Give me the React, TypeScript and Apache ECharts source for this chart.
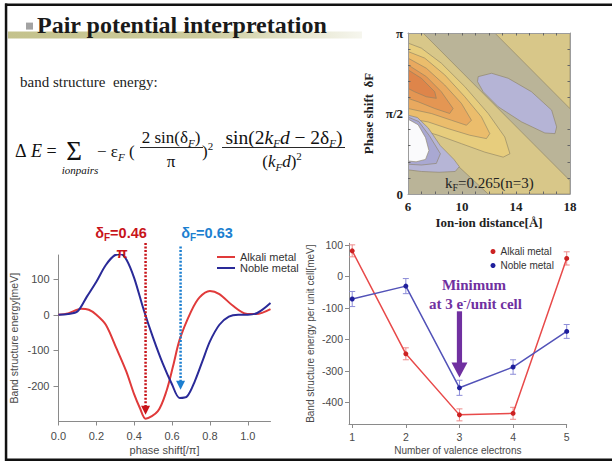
import React, { useEffect, useRef } from "react";
import * as echarts from "echarts";

// ---------- Left chart: band structure energy vs phase shift ----------
const alkaliPhase = [0, 0.05, 0.12, 0.16, 0.2, 0.25, 0.305, 0.358, 0.4, 0.43, 0.46, 0.525, 0.57, 0.605, 0.64, 0.7, 0.745, 0.8, 0.85, 0.92, 0.99, 1.045, 1.12];
const alkaliEnergy = [0, 4, 17, 14, 0, -28, -93, -159, -224, -262, -292, -271, -215, -145, -70, 9, 49, 67, 58, 26, 3, 2, 16];
const noblePhase = [0, 0.05, 0.1, 0.15, 0.2, 0.25, 0.3, 0.33, 0.36, 0.4, 0.45, 0.5, 0.55, 0.6, 0.64, 0.68, 0.72, 0.76, 0.8, 0.85, 0.9, 0.95, 1.0, 1.05, 1.12];
const nobleEnergy = [0, 2, 9, 51, 93, 140, 168, 170, 154, 103, 14, -65, -136, -196, -234, -229, -187, -131, -75, -28, -5, 0, 0, 5, 33];
const phaseTicks = [0, 0.2, 0.4, 0.6, 0.8, 1.0];
const energyTicks = [-200, -100, 0, 100];
// dotted arrows: [phase, top energy, tip energy]
const optimumArrows = [
  [0.46, 202, -281],
  [0.645, 192, -211],
];

// ---------- Right chart: energy per unit cell vs valence ----------
const valence = [1, 2, 3, 4, 5];
const alkaliBand = [81, -246, -440, -435, 57];
const alkaliErr = [19, 19, 19, 19, 21];
const nobleBand = [-72, -31, -354, -288, -175];
const nobleErr = [24, 24, 24, 23, 22];
const cellTicks = [-400, -300, -200, -100, 0, 100];
const minimumArrow = [3, -111, -321];

// ---------- Contour plot: regions [distance Å, phase/π] ----------
const distanceLabels = [6, 10, 14, 18];
const distanceTicks = [7, 8, 9, 10, 11, 12, 13, 14, 15, 16, 17];
const phaseLabels = [0, 0.5, 1];
const phaseMinor = [0.1, 0.2, 0.3, 0.4, 0.6, 0.7, 0.8, 0.9];
const regionTopRight = [[12.43, 1], [18, 1], [18, 0.53]];
const regionBandNeg = [[6, 1], [7.11, 1], [18, 0.083], [18, 0], [11.94, 0], [6, 0.4625]];
const regionEllipse = [[11.2, 0.729], [12.19, 0.75], [13.42, 0.719], [15.15, 0.635], [16.64, 0.521], [17.01, 0.417], [16.89, 0.375], [16.14, 0.379], [14.41, 0.448], [12.68, 0.542], [11.57, 0.635], [11.15, 0.698]];
const regionNeg2 = [[6, 0.9375], [6.99, 0.906], [8.47, 0.8125], [10.21, 0.667], [11.94, 0.5], [13.17, 0.354], [13.55, 0.25], [13.05, 0.229], [11.69, 0.26], [9.96, 0.3125], [8.23, 0.365], [6.99, 0.396], [6, 0.417]];
const regionNeg4 = [[6, 0.885], [7.24, 0.844], [8.72, 0.74], [10.21, 0.604], [11.44, 0.479], [12.06, 0.375], [11.81, 0.344], [10.58, 0.365], [8.97, 0.406], [7.48, 0.448], [6, 0.469]];
const regionNeg6 = [[6, 0.844], [7.36, 0.781], [8.72, 0.677], [9.96, 0.5625], [10.7, 0.458], [10.33, 0.427], [9.22, 0.458], [7.73, 0.5], [6, 0.531]];
const regionNeg8 = [[6, 0.802], [7.36, 0.729], [8.47, 0.635], [9.34, 0.531], [9.09, 0.5], [7.98, 0.531], [6.74, 0.573], [6, 0.594]];
const regionNeg10 = [[6, 0.771], [6.99, 0.719], [7.98, 0.635], [8.1, 0.594], [7.36, 0.604], [6.49, 0.635], [6, 0.656]];
const regionPos2 = [[6, 0.49], [6.7, 0.475], [7.5, 0.41], [8.4, 0.3], [9.4, 0.215], [9.8, 0.17], [9.5, 0.14], [8.3, 0.135], [6.99, 0.14], [6, 0.15]];
const regionPos4 = [[6, 0.478], [6.8, 0.45], [7.6, 0.36], [8.4, 0.25], [8.1, 0.19], [6.99, 0.18], [6, 0.185]];
const regionPos6 = [[6, 0.465], [6.75, 0.43], [7.3, 0.35], [7.55, 0.27], [7.3, 0.215], [6.6, 0.2], [6, 0.205]];

const contourLayers = [
  { pts: regionTopRight, fill: "#d8c789" },
  { pts: regionBandNeg, fill: "#d8c789" },
  { pts: regionEllipse, fill: "#b5b4d6" },
  { pts: regionNeg2, fill: "#e7cd7d" },
  { pts: regionNeg4, fill: "#ebbd6c" },
  { pts: regionNeg6, fill: "#e9a95f" },
  { pts: regionNeg8, fill: "#e49653" },
  { pts: regionNeg10, fill: "#de854a" },
  { pts: regionPos2, fill: "#b6b5d6" },
  { pts: regionPos4, fill: "#a9a8d2" },
  { pts: regionPos6, fill: "#fafafc" },
];

const SERIF = "Liberation Serif";
const SANS = "Liberation Sans";

const serifRich = (size: number, color = "#111") => ({
  n: { fontFamily: SERIF, fontSize: size, lineHeight: 22, fill: color },
  i: { fontFamily: SERIF, fontSize: size, fontStyle: "italic", lineHeight: 22, fill: color },
  s: { fontFamily: SERIF, fontSize: 11, fontStyle: "italic", lineHeight: 11, verticalAlign: "bottom", fill: color },
  p: { fontFamily: SERIF, fontSize: 11, lineHeight: 11, verticalAlign: "top", fill: color },
});

function text(t: string, x: number, y: number, extra: any = {}) {
  return {
    type: "text",
    x,
    y,
    z: 50,
    style: {
      text: t,
      fill: "#111",
      fontFamily: SERIF,
      fontSize: 17,
      align: "left",
      verticalAlign: "middle",
      ...extra,
    },
  };
}

export default function App() {
  const ref = useRef<HTMLDivElement>(null);
  useEffect(() => {
    if (!ref.current) return;
    const chart = echarts.init(ref.current, undefined, { renderer: "svg" });

    const axisGray = "#8a8a8a";
    const labelGray = "#4a4a4a";
    const red = "#c8141a";
    const sky = "#1c7fd0";
    const purple = "#7030a0";

    const option: any = {
      animation: false,
      backgroundColor: "#ffffff",
      textStyle: { fontFamily: SANS },
      grid: [
        { left: 408, top: 33, width: 162, height: 161, show: true, backgroundColor: "#bab498", borderWidth: 0 },
        { left: 58.5, top: 255, width: 212, height: 166.5 },
        { left: 349, top: 243.3, width: 217.7, height: 180.7 },
      ],
      xAxis: [
        {
          gridIndex: 0, type: "value", min: 6, max: 18, position: "bottom", z: 10,
          axisLine: { show: true, onZero: false, lineStyle: { color: "#9c9c9c", width: 1 } },
          axisTick: { show: true, inside: true, length: 2.5, customValues: distanceTicks, lineStyle: { color: "#666" } },
          axisLabel: { customValues: distanceLabels, fontFamily: SERIF, fontWeight: "bold", fontSize: 13, color: "#222", margin: 6 },
          splitLine: { show: false },
          name: "Ion-ion distance[Å]", nameLocation: "middle", nameGap: 22,
          nameTextStyle: { fontFamily: SERIF, fontWeight: "bold", fontSize: 13, color: "#222" },
        },
        {
          gridIndex: 0, type: "value", min: 6, max: 18, position: "top", z: 10,
          axisLine: { show: true, onZero: false, lineStyle: { color: "#9c9c9c", width: 1 } },
          axisTick: { show: true, inside: true, length: 2.5, customValues: distanceTicks, lineStyle: { color: "#666" } },
          axisLabel: { show: false }, splitLine: { show: false },
        },
        {
          gridIndex: 1, type: "value", min: 0, max: 1.12,
          axisLine: { show: true, onZero: false, lineStyle: { color: axisGray } },
          axisTick: { show: true, length: 4, customValues: phaseTicks, lineStyle: { color: axisGray } },
          axisLabel: { customValues: phaseTicks, formatter: (v: number) => v.toFixed(1), fontSize: 11, color: labelGray, margin: 9 },
          splitLine: { show: false },
          name: "phase shift[/π]", nameLocation: "middle", nameGap: 23,
          nameTextStyle: { fontSize: 11, color: labelGray },
        },
        {
          gridIndex: 2, type: "value", min: 0.94, max: 5,
          axisLine: { show: true, onZero: false, lineStyle: { color: axisGray } },
          axisTick: { show: true, length: 4, customValues: valence, lineStyle: { color: axisGray } },
          axisLabel: { customValues: valence, fontSize: 10.5, color: labelGray, margin: 7 },
          splitLine: { show: false },
          name: "Number of valence electrons", nameLocation: "middle", nameGap: 21,
          nameTextStyle: { fontSize: 10, color: labelGray },
        },
      ],
      yAxis: [
        {
          gridIndex: 0, type: "value", min: 0, max: 1, position: "left", z: 10,
          axisLine: { show: true, onZero: false, lineStyle: { color: "#9c9c9c", width: 1 } },
          axisTick: { show: true, inside: true, length: 2.5, customValues: phaseMinor, lineStyle: { color: "#666" } },
          axisLabel: {
            customValues: phaseLabels,
            formatter: (v: number) => (v === 0 ? "0" : v === 0.5 ? "π/2" : "π"),
            fontFamily: SERIF, fontWeight: "bold", fontSize: 13, color: "#222", margin: 5,
          },
          splitLine: { show: false },
          name: "Phase shift  δF", nameLocation: "middle", nameRotate: 90, nameGap: 33,
          nameTextStyle: { fontFamily: SERIF, fontWeight: "bold", fontSize: 13, color: "#222" },
        },
        {
          gridIndex: 0, type: "value", min: 0, max: 1, position: "right", z: 10,
          axisLine: { show: true, onZero: false, lineStyle: { color: "#9c9c9c", width: 1 } },
          axisTick: { show: true, inside: true, length: 2.5, customValues: phaseMinor, lineStyle: { color: "#666" } },
          axisLabel: { show: false }, splitLine: { show: false },
        },
        {
          gridIndex: 1, type: "value", min: -300, max: 168,
          axisLine: { show: true, onZero: false, lineStyle: { color: axisGray } },
          axisTick: { show: true, length: 5, customValues: energyTicks, lineStyle: { color: axisGray } },
          axisLabel: { customValues: energyTicks, fontSize: 11, color: labelGray, margin: 9 },
          splitLine: { show: false },
          name: "Band structure energy[meV]", nameLocation: "middle", nameRotate: 90, nameGap: 39,
          nameTextStyle: { fontSize: 10.5, color: labelGray },
        },
        {
          gridIndex: 2, type: "value", min: -469, max: 105,
          axisLine: { show: true, onZero: false, lineStyle: { color: axisGray } },
          axisTick: { show: true, length: 4, customValues: cellTicks, lineStyle: { color: axisGray } },
          axisLabel: { customValues: cellTicks, fontSize: 10.5, color: labelGray, margin: 6 },
          splitLine: { show: false },
          name: "Band structure energy per unit cell[meV]", nameLocation: "middle", nameRotate: 90, nameGap: 34,
          nameTextStyle: { fontSize: 10, color: labelGray },
        },
      ],
      legend: [
        {
          orient: "vertical", left: 212, top: 246.5, itemWidth: 18, itemHeight: 2, itemGap: 0,
          icon: "rect", selectedMode: false,
          textStyle: { fontSize: 11, color: "#333", lineHeight: 11 },
          data: [
            { name: "Alkali metal", itemStyle: { color: "#e03a3a" } },
            { name: "Noble metal", itemStyle: { color: "#2a2a98" } },
          ],
        },
        {
          orient: "vertical", left: 485.5, top: 241, itemWidth: 5, itemHeight: 5, itemGap: 3,
          icon: "circle", selectedMode: false,
          textStyle: { fontSize: 10, color: "#333", lineHeight: 11 },
          formatter: (n: string) => (n === "alkali-n" ? "Alkali metal" : "Noble metal"),
          data: [
            { name: "alkali-n", itemStyle: { color: "#cc2222" } },
            { name: "noble-n", itemStyle: { color: "#1f1f9c" } },
          ],
        },
      ],
      series: [
        {
          type: "custom", name: "contour", xAxisIndex: 0, yAxisIndex: 0, clip: true, silent: true,
          data: contourLayers.map((_, i) => [6, 0, i]),
          renderItem: (params: any, api: any) => {
            const layer = contourLayers[params.dataIndex];
            return {
              type: "polygon",
              shape: { points: layer.pts.map((p) => api.coord(p)) },
              style: { fill: layer.fill, stroke: "#8a8063", lineWidth: 0.6 },
            };
          },
        },
        {
          type: "line", name: "Alkali metal", xAxisIndex: 2, yAxisIndex: 2, smooth: 0.3, showSymbol: false,
          lineStyle: { color: "#e03a3a", width: 2 }, itemStyle: { color: "#e03a3a" },
          data: alkaliPhase.map((x, i) => [x, alkaliEnergy[i]]),
        },
        {
          type: "line", name: "Noble metal", xAxisIndex: 2, yAxisIndex: 2, smooth: 0.3, showSymbol: false,
          lineStyle: { color: "#2a2a98", width: 2 }, itemStyle: { color: "#2a2a98" },
          data: noblePhase.map((x, i) => [x, nobleEnergy[i]]),
        },
        {
          type: "custom", name: "optimum", xAxisIndex: 2, yAxisIndex: 2, clip: false, silent: true, z: 5,
          data: optimumArrows,
          renderItem: (params: any, api: any) => {
            const color = params.dataIndex === 0 ? red : sky;
            const top = api.coord([api.value(0), api.value(1)]);
            const tip = api.coord([api.value(0), api.value(2)]);
            const head = 9;
            return {
              type: "group",
              children: [
                { type: "line", shape: { x1: top[0], y1: top[1], x2: tip[0], y2: tip[1] - head + 1 }, style: { stroke: color, lineWidth: 2.5, lineDash: [2, 1.6] } },
                { type: "polygon", shape: { points: [[tip[0] - 4.5, tip[1] - head], [tip[0] + 4.5, tip[1] - head], [tip[0], tip[1]]] }, style: { fill: color } },
              ],
            };
          },
        },
        {
          type: "custom", name: "errors", xAxisIndex: 3, yAxisIndex: 3, silent: true, z: 1,
          data: [
            ...valence.map((v, i) => [v, alkaliBand[i], alkaliErr[i], 0]),
            ...valence.map((v, i) => [v, nobleBand[i], nobleErr[i], 1]),
          ],
          renderItem: (params: any, api: any) => {
            const x = api.value(0), y = api.value(1), e = api.value(2);
            const color = api.value(3) === 0 ? "#ee8a8a" : "#8c8cd8";
            const hi = api.coord([x, y + e]);
            const lo = api.coord([x, y - e]);
            const w = 3;
            const st = { stroke: color, lineWidth: 1 };
            return {
              type: "group",
              children: [
                { type: "line", shape: { x1: hi[0], y1: hi[1], x2: lo[0], y2: lo[1] }, style: st },
                { type: "line", shape: { x1: hi[0] - w, y1: hi[1], x2: hi[0] + w, y2: hi[1] }, style: st },
                { type: "line", shape: { x1: lo[0] - w, y1: lo[1], x2: lo[0] + w, y2: lo[1] }, style: st },
              ],
            };
          },
        },
        {
          type: "line", name: "alkali-n", xAxisIndex: 3, yAxisIndex: 3, symbol: "circle", symbolSize: 5,
          lineStyle: { color: "#e84a4a", width: 1.5 }, itemStyle: { color: "#cc2222" },
          data: valence.map((v, i) => [v, alkaliBand[i]]),
        },
        {
          type: "line", name: "noble-n", xAxisIndex: 3, yAxisIndex: 3, symbol: "circle", symbolSize: 5,
          lineStyle: { color: "#5252b8", width: 1.5 }, itemStyle: { color: "#1f1f9c" },
          data: valence.map((v, i) => [v, nobleBand[i]]),
        },
        {
          type: "custom", name: "minimum", xAxisIndex: 3, yAxisIndex: 3, clip: false, silent: true, z: 6,
          data: [minimumArrow],
          renderItem: (params: any, api: any) => {
            const top = api.coord([api.value(0), api.value(1)]);
            const tip = api.coord([api.value(0), api.value(2)]);
            const head = 15;
            return {
              type: "group",
              children: [
                { type: "rect", shape: { x: top[0] - 2.6, y: top[1], width: 5.2, height: tip[1] - head - top[1] + 1 }, style: { fill: purple } },
                { type: "polygon", shape: { points: [[tip[0] - 8, tip[1] - head], [tip[0] + 8, tip[1] - head], [tip[0], tip[1]]] }, style: { fill: purple } },
              ],
            };
          },
        },
      ],
      graphic: [
        // slide frame
        { type: "rect", z: 50, shape: { x: 5, y: 3.5, width: 607, height: 2.6 }, style: { fill: "#111" } },
        { type: "rect", z: 50, shape: { x: 4.8, y: 3.5, width: 2.5, height: 458 }, style: { fill: "#111" } },
        { type: "rect", z: 50, shape: { x: 5, y: 458.4, width: 607, height: 2.6 }, style: { fill: "#111" } },
        // title band
        {
          type: "rect", z: 40, shape: { x: 8, y: 31.6, width: 354, height: 6.8 },
          style: {
            fill: new echarts.graphic.LinearGradient(0, 0, 1, 0, [
              { offset: 0, color: "#c4c28c" },
              { offset: 0.55, color: "#cccb9c" },
              { offset: 1, color: "#f6f6ee" },
            ]),
          },
        },
        { type: "rect", z: 50, shape: { x: 26, y: 22.6, width: 7, height: 7 }, style: { fill: "#a3a3a3" } },
        text("Pair potential interpretation", 37, 25, { fontSize: 24, fontWeight: "bold", fill: "#1a1a1a" }),
        text("band structure  energy:", 20, 82, { fontSize: 15, fill: "#222" }),
        // formula
        text("{n|Δ }{i|E}{n| =}", 15, 151, { rich: serifRich(18) }),
        text("Σ", 74, 151, { fontSize: 27, align: "center" }),
        text("ionpairs", 80, 170, { fontSize: 11, fontStyle: "italic", align: "center" }),
        text("{n|− ε}{s|F}{n| (}", 97, 151, { rich: serifRich(17) }),
        text("{n|2 sin(δ}{s|F}{n|)}", 171, 137, { align: "center", rich: serifRich(17) }),
        { type: "line", z: 50, shape: { x1: 140, y1: 147.5, x2: 203, y2: 147.5 }, style: { stroke: "#111", lineWidth: 0.9 } },
        text("π", 171, 161, { align: "center" }),
        text("{n|)}{p|2}", 202, 151, { rich: serifRich(17) }),
        text("{n|sin(2}{i|k}{s|F}{i|d}{n| − 2δ}{s|F}{n|)}", 284, 137, { align: "center", rich: serifRich(19.5) }),
        { type: "line", z: 50, shape: { x1: 222, y1: 147.5, x2: 345, y2: 147.5 }, style: { stroke: "#111", lineWidth: 0.9 } },
        text("{n|(}{i|k}{s|F}{i|d}{n|)}{p|2}", 282, 161, { align: "center", rich: serifRich(17) }),
        // contour annotation
        text("{n|k}{s|F}{n|=0.265(n=3)}", 445, 183, {
          rich: {
            n: { fontFamily: SERIF, fontSize: 15, lineHeight: 18, fill: "#222" },
            s: { fontFamily: SERIF, fontSize: 10, lineHeight: 10, verticalAlign: "bottom", fill: "#222" },
          },
        }),
        // left chart annotations
        text("{n|δ}{s|F}{n|=0.46}", 121, 233, {
          align: "center",
          rich: {
            n: { fontFamily: SANS, fontSize: 14.5, fontWeight: "bold", lineHeight: 18, fill: red },
            s: { fontFamily: SANS, fontSize: 10, fontWeight: "bold", lineHeight: 10, verticalAlign: "bottom", fill: red },
          },
        }),
        text("π", 122, 253, { fontFamily: SANS, fontSize: 14.5, fontWeight: "bold", fill: red, align: "center" }),
        text("{n|δ}{s|F}{n|=0.63}", 207, 233, {
          align: "center",
          rich: {
            n: { fontFamily: SANS, fontSize: 14.5, fontWeight: "bold", lineHeight: 18, fill: sky },
            s: { fontFamily: SANS, fontSize: 10, fontWeight: "bold", lineHeight: 10, verticalAlign: "bottom", fill: sky },
          },
        }),
        // right chart annotation
        text("Minimum", 474, 285, { fontSize: 15, fontWeight: "bold", fill: purple, align: "center" }),
        text("{n|at 3 e}{p|-}{n|/unit cell}", 475.5, 304, {
          align: "center",
          rich: {
            n: { fontFamily: SERIF, fontSize: 15, fontWeight: "bold", lineHeight: 18, fill: purple },
            p: { fontFamily: SERIF, fontSize: 10, fontWeight: "bold", lineHeight: 10, verticalAlign: "top", fill: purple },
          },
        }),
      ],
    };

    chart.setOption(option);
    return () => chart.dispose();
  }, []);

  return (
    <div
      ref={ref}
      style={{ position: "absolute", left: 0, top: 0, width: 612, height: 461, background: "#fff" }}
    />
  );
}
